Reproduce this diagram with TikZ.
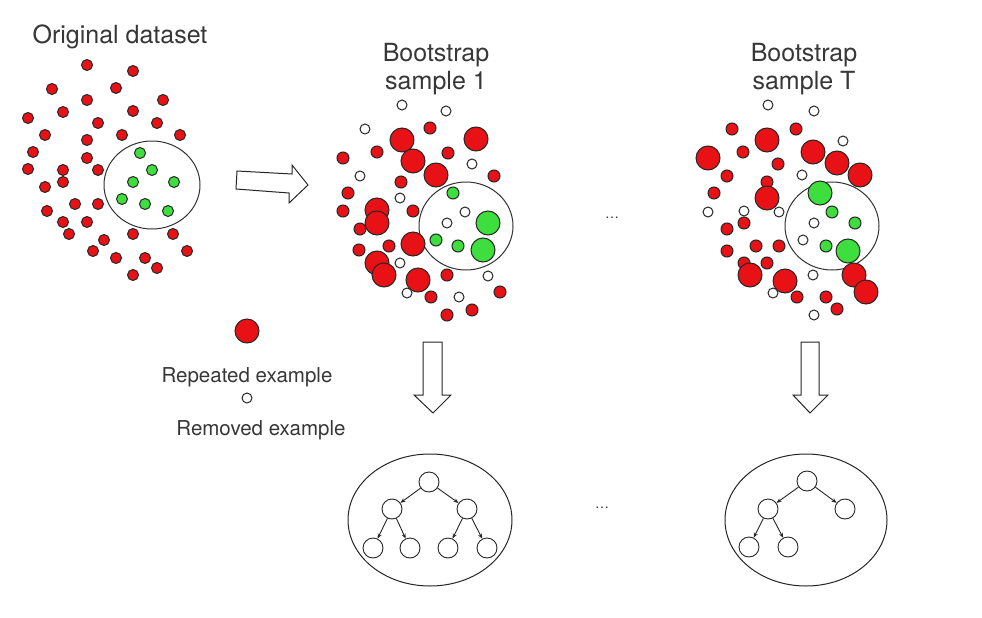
\documentclass[tikz,border=0pt]{standalone}
\usepackage{fontspec}
\setmainfont{TeX Gyre Heros}
\usetikzlibrary{arrows.meta}
\definecolor{dotred}{RGB}{232,18,22}
\definecolor{dotgreen}{RGB}{62,222,62}
\definecolor{txt}{RGB}{55,55,55}
\begin{document}
\begin{tikzpicture}[x=1pt,y=-1pt,
  rdot/.style={fill=dotred,draw=black!85,line width=1pt},
  gdot/.style={fill=dotgreen,draw=black!85,line width=1pt},
  wdot/.style={fill=white,draw=black!85,line width=1pt},
  region/.style={draw=black!80,line width=1pt},
  bigarrow/.style={draw=black!85,line width=1pt,fill=white,line join=miter},
  title/.style={text=txt,font=\fontsize{25}{28}\selectfont,align=center,inner sep=0pt},
  legtext/.style={text=txt,font=\fontsize{20.5}{24}\selectfont,inner sep=0pt},
  tnode/.style={circle,draw=black!85,line width=0.9pt,minimum size=20pt,inner sep=0pt},
  tedge/.style={draw=black!85,line width=0.9pt,-{Stealth[length=5pt,width=4pt]}},
  forest/.style={draw=black!85,line width=1pt},
  dots/.style={text=txt,font=\fontsize{14}{16}\selectfont,inner sep=0pt}]
\useasboundingbox (0,0) rectangle (982,618);
\fill[white] (0,0) rectangle (982,618);

% ---------- titles ----------
\node[title] (torig) at (120,37) {Original dataset};
\node[title] (tb1) at (436,69) {Bootstrap\\sample 1};
\node[title] (tbT) at (804,69) {Bootstrap\\sample T};

% ---------- original dataset ----------
\draw[region] (152,185) ellipse[x radius=48,y radius=44];
\foreach \x/\y in {87/65,133/71,52/89,116/88,87/100,163/100,63/112,133/111,28/118,98/123,157/123,
  45/135,122/135,180/135,87/140,33/152,87/158,28/169,63/170,98/170,63/182,45/187,75/204,98/204,
  47/211,63/222,87/222,69/234,133/234,173/234,104/240,93/251,187/251,116/258,145/258,157/268,133/275}
  \path[rdot] (\x,\y) circle[radius=5.5];
\foreach \x/\y in {140/153,152/170,133/182,174/182,122/199,145/204,168/211}
  \path[gdot] (\x,\y) circle[radius=5.5];

% ---------- arrow right ----------
\draw[bigarrow] (237,171) -- (292,174) -- (292,165) -- (308,185) -- (289,203) -- (289,193) -- (236,189) -- cycle;

% ---------- bootstrap sample 1 ----------
\draw[region] (466,226) ellipse[x radius=47,y radius=44];
\foreach \x/\y in {402/105,446/111,365/129,472/164,360/176,400/198,465/212,447/223,400/263,488/276,407/293,459/297}
  \path[wdot] (\x,\y) circle[radius=5];
\foreach \x/\y in {430/128,377/152,448/153,343/158,494/176,401/182,348/193,343/211,413/211,360/229,
  389/246,359/250,447/275,431/297,500/292,472/310,447/315}
  \path[rdot] (\x,\y) circle[radius=6];
\foreach \x/\y in {402/140,476/139,413/161,436/175,377/210,377/223,413/244,377/263,384/275,418/280}
  \path[rdot] (\x,\y) circle[radius=12];
\foreach \x/\y in {453/193,436/240,458/246}
  \path[gdot] (\x,\y) circle[radius=6];
\foreach \x/\y in {488/223,483/250}
  \path[gdot] (\x,\y) circle[radius=12];

% ---------- bootstrap sample T ----------
\draw[region] (832,226) ellipse[x radius=47,y radius=44];
\foreach \x/\y in {768/105,814/111,843/141,802/175,708/212,744/211,779/212,814/223,803/240,813/275,773/293,814/315}
  \path[wdot] (\x,\y) circle[radius=5];
\foreach \x/\y in {732/129,796/129,743/152,778/164,727/176,767/182,714/193,727/229,744/223,756/246,
  779/246,727/251,744/263,767/263,797/297,826/297,837/309}
  \path[rdot] (\x,\y) circle[radius=6];
\foreach \x/\y in {708/158,767/140,813/152,837/163,860/175,767/198,750/275,785/281,854/275,866/292}
  \path[rdot] (\x,\y) circle[radius=12];
\foreach \x/\y in {820/193,848/251}
  \path[gdot] (\x,\y) circle[radius=12];
\foreach \x/\y in {832/212,855/223,826/246}
  \path[gdot] (\x,\y) circle[radius=6];

% ---------- ellipsis ----------
\node[dots] (d1) at (612,218) {\dots};
\node[dots] (d2) at (602,508) {\dots};

% ---------- legend ----------
\path[rdot] (247,331) circle[radius=12];
\node[legtext] (lrep) at (247,377) {Repeated example};
\path[wdot] (247,398) circle[radius=5];
\node[legtext] (lrem) at (261,430) {Removed example};

% ---------- down arrows ----------
\draw[bigarrow] (423,342) -- (442,342) -- (442,395) -- (451,395) -- (433,413) -- (414,395) -- (423,395) -- cycle;
\draw[bigarrow] (801,342) -- (819,342) -- (819,395) -- (828,395) -- (810,413) -- (793,395) -- (801,395) -- cycle;

% ---------- tree 1 ----------
\draw[forest] (430,520) ellipse[x radius=82,y radius=66];
\node[tnode] (a0) at (429,482) {};
\node[tnode] (a1) at (392,509) {};
\node[tnode] (a2) at (467,509) {};
\node[tnode] (a3) at (373,548) {};
\node[tnode] (a4) at (410,548) {};
\node[tnode] (a5) at (448,548) {};
\node[tnode] (a6) at (487,548) {};
\draw[tedge] (a0) -- (a1);
\draw[tedge] (a0) -- (a2);
\draw[tedge] (a1) -- (a3);
\draw[tedge] (a1) -- (a4);
\draw[tedge] (a2) -- (a5);
\draw[tedge] (a2) -- (a6);

% ---------- tree T ----------
\draw[forest] (806,520) ellipse[x radius=81,y radius=66];
\node[tnode] (b0) at (807,481) {};
\node[tnode] (b1) at (768,509) {};
\node[tnode] (b2) at (845,509) {};
\node[tnode] (b3) at (749,547) {};
\node[tnode] (b4) at (788,547) {};
\draw[tedge] (b0) -- (b1);
\draw[tedge] (b0) -- (b2);
\draw[tedge] (b1) -- (b3);
\draw[tedge] (b1) -- (b4);
\end{tikzpicture}
\end{document}
